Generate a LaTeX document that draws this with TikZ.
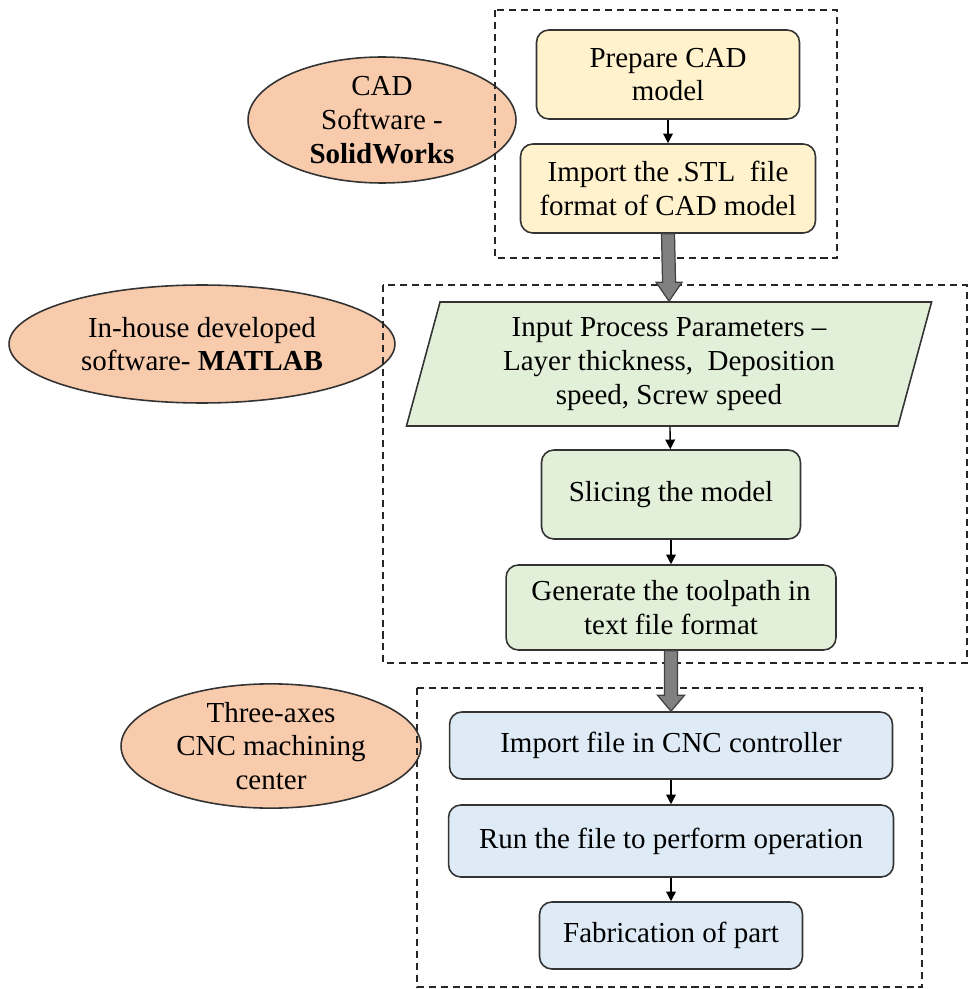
\documentclass[tikz,border=0pt]{standalone}
\usepackage{fontspec}
\setmainfont{Liberation Serif}
\usetikzlibrary{arrows.meta,positioning,shapes,calc}
\definecolor{cadfill}{HTML}{FFF2CC}
\definecolor{slicefill}{HTML}{E2F0D9}
\definecolor{cncfill}{HTML}{DEEBF7}
\definecolor{toolfill}{HTML}{F8CBAD}

\begin{document}
\begin{tikzpicture}[x=0.02cm,y=-0.02cm,
  txt/.style={align=center,font=\fontsize{16.5}{19.2}\selectfont},
  box/.style={txt,draw=black!80,line width=0.9pt,rounded corners=7pt,inner sep=2pt},
  tool/.style={txt,draw=black!80,line width=0.9pt,ellipse,fill=toolfill,inner sep=0pt},
  frame/.style={draw=black!85,line width=1.1pt,dash pattern=on 4pt off 2.8pt},
  flow/.style={-{Triangle[length=5.5pt,width=5.5pt]},line width=0.8pt},
  fatarrow/.style={draw=black!75,fill=black!50,line width=0.7pt}]
\useasboundingbox (0,0) rectangle (971,989);
% software / machine labels
\node[tool,minimum width=5.36cm,minimum height=2.52cm] (cad) at (382,120) {CAD\\Software -\\\textbf{SolidWorks}};
\node[tool,minimum width=7.72cm,minimum height=2.36cm] (matlab) at (202,344) {In-house developed\\software- \textbf{MATLAB}};
\node[tool,minimum width=6.0cm,minimum height=2.46cm] (cnc) at (271,746) {Three-axes\\CNC machining\\center};
% stage frames
\draw[frame] (495,10) rectangle (837,258);
\draw[frame] (383,285) rectangle (967,663);
\draw[frame] (417,688) rectangle (922,987);
% steps
\node[box,fill=cadfill,minimum width=5.26cm,minimum height=1.78cm] (prep) at (668,74.5) {Prepare CAD\\model};
\node[box,fill=cadfill,minimum width=5.9cm,minimum height=1.78cm] (stl) at (668,188.5) {Import the .STL\ \ file\\format of CAD model};
\node[txt,draw=black!80,line width=0.9pt,fill=slicefill,trapezium,trapezium left angle=76,trapezium right angle=104,
  trapezium stretches=true,minimum width=10.52cm,minimum height=2.48cm,inner sep=2pt] (param) at (669,364)
  {Input Process Parameters --\\Layer thickness,\ \ Deposition\\speed, Screw speed};
\node[box,fill=slicefill,minimum width=5.18cm,minimum height=1.78cm] (slice) at (671,494.5) {Slicing the model};
\node[box,fill=slicefill,minimum width=6.6cm,minimum height=1.7cm] (gen) at (671,607.5) {Generate the toolpath in\\text file format};
\node[box,fill=cncfill,minimum width=8.86cm,minimum height=1.34cm] (load) at (671,745.5) {Import file in CNC controller};
\node[box,fill=cncfill,minimum width=8.9cm,minimum height=1.44cm] (run) at (671,841) {Run the file to perform operation};
\node[box,fill=cncfill,minimum width=5.26cm,minimum height=1.34cm] (fab) at (671,935.5) {Fabrication of part};
% thin arrows
\draw[flow] (prep) -- (stl);
\draw[flow] (param) -- (slice);
\draw[flow] (slice) -- (gen);
\draw[flow] (load) -- (run);
\draw[flow] (run) -- (fab);
% thick arrows between stages
\draw[fatarrow] ($(stl.south)+(-6.5,0)$) -- ($(param.north)+(-6.5,-19)$) -- ++(-6.5,0) -- (param.north)
  -- ++(13,-19) -- ++(-6.5,0) -- ($(stl.south)+(6.5,0)$) -- cycle;
\draw[fatarrow] ($(gen.south)+(-6.5,0)$) -- ($(load.north)+(-6.5,-16)$) -- ++(-7,0) -- (load.north)
  -- ++(13.5,-16) -- ++(-7,0) -- ($(gen.south)+(6.5,0)$) -- cycle;
\end{tikzpicture}
\end{document}
